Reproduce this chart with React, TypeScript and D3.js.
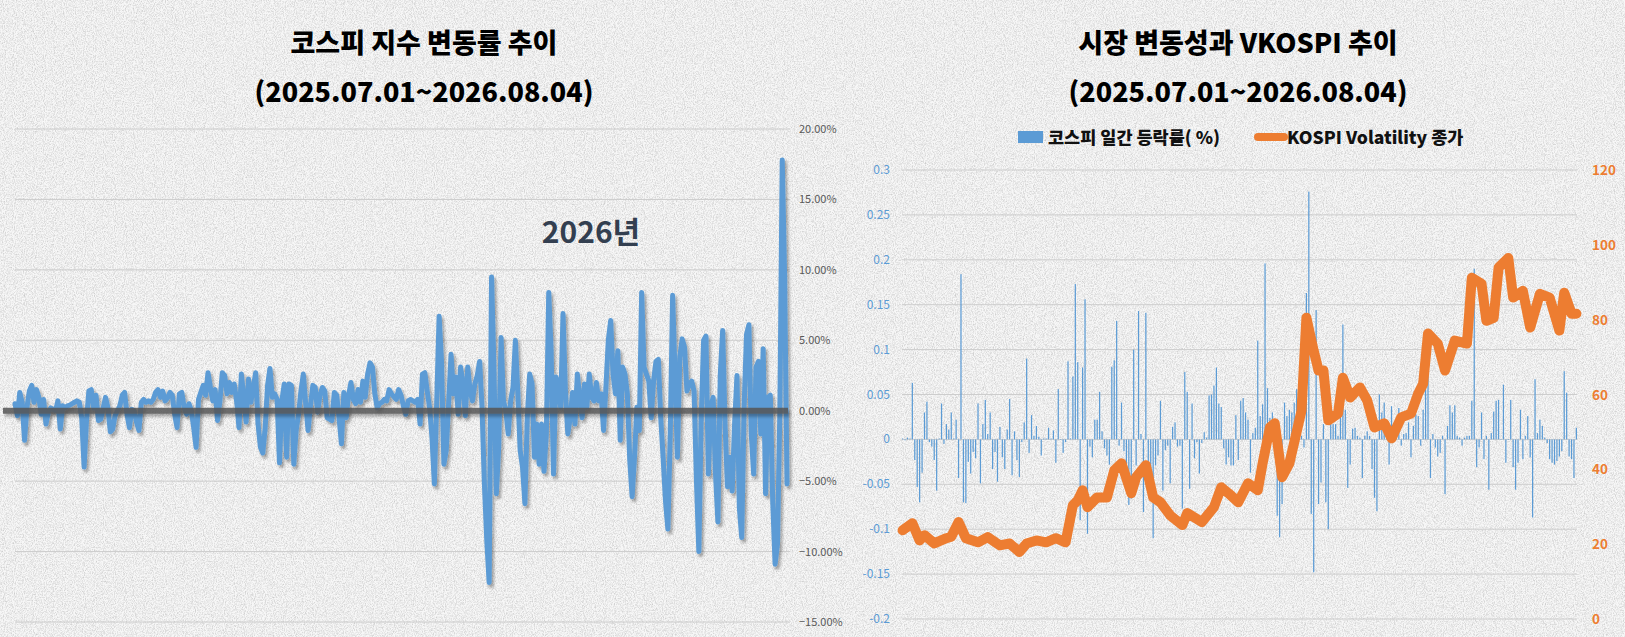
import React, { useEffect, useRef } from 'react';
import * as d3 from 'd3';

// 코스피 지수 변동률 (%), 2025.07.01 ~ 2026.08.04
const kospiRate = [
  0.5, -0.35, 1.3, 0.6, -2.1, 0.2, 1.4, 1.8, 0.6, 1.5,
  0.95, -0.25, 0.8, -0.95, -0.1, 0.2, 0.1, 0, 0.7, -1.3,
  0.35, 0.2, 0.35, 0.4, 0.5, 0.6, 0.7, 0.6, -0.5, -4.0,
  -0.7, 1.4, 1.5, 0.2, 1.1, -0.7, -0.6, 0.2, 0.95, 0.2,
  -1.5, -1.3, -0.35, 0, 0.35, 1.1, 1.3, -0.25, -1.2, 0.1,
  0, -0.8, -1.4, 0.6, 0.8, 0.6, 0.7, 0.6, 0.8, 1.3,
  1.5, 0.95, 1.4, 0.7, 0.9, 1.3, 1.1, -0.25, -1.2, 1.2,
  1.3, 0.2, -0.25, 0.5, 0, -1.2, -2.6, 0.8, 1.3, 1.8,
  1.1, 2.7, 1.65, 0.7, 1.5, -0.7, 0.7, 2.7, 2.5, 1.2,
  2.0, 1.3, 1.9, 0.7, -1.2, 2.6, 0.95, -0.8, 2.25, 0.6,
  1.65, 2.7,
  -0.95, -2.6, -3.0, -1.2, 1.8, 3.0, 0.95, 1.2, 0.8, -3.7,
  0.7, 1.9, -3.3, 1.9, 1.8, -3.8, -1.4, -0.25, 1.4, 2.6,
  0.5, -1.4, 0.35, 1.8, 1.65, -0.1, 1.1, 1.65, 1.4, -0.5,
  -0.6, -0.7, 1.3, 1.1, -0.5, -2.35, 1.3, -0.5, 1.1, 2.0,
  0.8, 0.5, 1.5, 0.6, 2.1, 0.95, 2.6, 3.4, 3.1, 1.2,
  0.2, 0.5, 0.6, 0.8, 0.7, 1.5, 1.2, 1.0, 0.8, 1.5,
  1.1, 0.35, -0.25, 0.7, 0.8, 0.7, 0.6, 0.8, -0.95, 2.6,
  2.7, 1.4, 0.2,
  -1.9, -5.2, 0.7, 6.7, 3.5, -3.8, -2.8, 0.6, 4.0, 1.2,
  2.4, -0.25, 3.1, 1.9, -0.35, 3.1, 1.4, 0.7, 1.9, 2.5,
  3.5, 0.25, -5.2, -9.2, -12.2, 9.5, 3.1, -5.9, -2.6, 5.2,
  0.7, 0, -1.65, 0.7, 1.65, 5.0, 1.4, -2.8, -4.0, -6.6,
  -0.5, 2.6, 1.9, -3.3, -0.95, -3.8, -0.95, -4.3, -1.65, 8.4,
  4.25, -4.5, 2.4, 1.9, 0.25, 6.9, 1.4, -1.65, -0.5, 1.3,
  -0.95, 2.6, 0.95, -0.5, 1.9, 0.25, 2.6, 0.95, 0.7, 2.0,
  0.7, 1.2, -1.4, 1.65, 5.0, 6.4, 2.6, 1.2, 4.25, -2.1,
  3.1, 2.6, 1.2, -3.5, -6.1, -3.3, 0.25, -1.4, 8.4, 3.1,
  2.6, 2.1, -0.5, 2.1, 3.5, 3.65, -0.5, -3.3, -6.4, -8.4,
  -1.65, 8.2, 2.6, -3.3, 3.8, 5.1, 4.5, 1.4, 1.9, 2.1,
  1.4, -5.0, -10.0, -0.5, 5.0, 5.3, -4.5, 0.25, 0.95, -4.5,
  -7.9, 2.6, 5.7, -0.95, -5.4, -3.3, -5.7, -0.95, 2.5, -6.9,
  -9.0, 0.25, 5.4, 6.1, -1.65, -4.5, 3.1, 3.5, -1.65, 4.4,
  -5.9, 0.95, 1.1, -6.4, -10.9, -9.5, 0, 17.8, 9.5, -5.2,
];

// 코스피 일간 등락률 (bars, right chart)
const dailyChange = [
  0.001, -0.001, 0.002, 0.001,
  0.063, -0.023, -0.053, -0.07, -0.037, 0.03, 0.042, -0.003, -0.008, -0.023,
  -0.057, 0.001, 0.04, -0.005, 0.017, 0.011, 0.03, 0.001, 0.022, -0.043,
  0.184, -0.07, -0.071, -0.025, -0.038, -0.014, -0.021, 0.04, -0.049, 0.017,
  0.044, 0.006, 0.03, -0.033, -0.014, -0.047, 0.014, -0.02, -0.033, 0.011,
  0.045, -0.04, 0.009, -0.023, -0.042, -0.003, 0.019, 0.09, -0.015, 0.027,
  0.004, 0.015, 0.003, -0.018, 0.001, 0.001, 0.013, 0.001, 0.01, -0.026,
  0.056, 0, -0.015, -0.003, 0.087, 0.001, 0.07, 0.173, 0.086, -0.09,
  0.08, 0.156, -0.105, -0.008, -0.02, 0.022, 0.022, 0.053, 0.009, -0.01,
  -0.018, -0.028, 0.081, 0.088, 0.132, -0.007, 0.041, -0.013, -0.034, -0.073,
  -0.066, 0.1, -0.029, 0.143, 0.006, -0.081, 0.141, -0.025, -0.047, -0.11,
  -0.029, -0.018, 0.043, -0.057, -0.012, -0.007, -0.049, 0.014, 0.019, -0.008,
  -0.007, -0.077, 0.075, 0.053, -0.055, 0.04, -0.021, -0.003, -0.038, -0.004,
  0.008, 0.002, 0.049, 0.05, 0.06, 0.08, 0.04, 0.036, -0.01, -0.028,
  -0.02, -0.029, -0.029, 0.027, -0.023,
  0.043, 0.046, 0.03, 0.022, -0.037, 0.007, 0.013, 0.11, 0.026, 0.039,
  0.196, 0.057, 0.024, 0.03, 0.002, -0.085, -0.109, -0.072, 0.041, 0.026,
  0.033, 0.03, 0.041, 0.056, 0.037, 0.004, -0.009, 0.163, 0.276, -0.083,
  -0.148, 0.144, -0.072, -0.048, 0.017, -0.07, -0.1, 0.03, 0.017, 0.017,
  0.004, 0.057, 0.128, 0.033, -0.054, -0.028, 0.012, 0.013, 0.004, 0.002,
  -0.043, 0.004, 0.009, 0.004, -0.033, -0.065, -0.08, 0.05, 0.03, 0.041,
  0.007, -0.028, 0.037, 0.007, 0.007, 0.035, -0.007, 0.006, 0.007, 0.019,
  -0.02, 0.015, 0.028, 0.026, -0.007, 0.033, 0.065, 0.081, -0.043, 0.006,
  -0.009, -0.019, -0.015, 0.004, -0.061, 0.015, 0.038, 0.03, 0.038, 0.004,
  0.002, -0.007, 0.002, 0.004, 0.004, 0.043, 0.19, -0.031, -0.009, 0.03,
  -0.022, 0.004, -0.056, 0.007, 0.031, 0.043, 0.044, 0, 0.061, -0.026,
  0, 0.044, -0.031, -0.056, -0.026, 0.033, -0.022, 0.004, 0.026, -0.02,
  -0.087, 0.067, 0.007, 0.022, 0.015, 0.002, -0.004, -0.022, -0.026, -0.028,
  -0.024, -0.019, -0.013, 0.076, 0.052, -0.019, -0.022, -0.043, 0.013,
];

// KOSPI Volatility 종가 (trading-day index, close)
const vkospiDay = [
  0, 4, 7, 9, 13, 18, 20, 23, 26, 31, 35, 40, 44, 48, 51, 55, 59, 63, 67, 70,
  72, 74, 76, 80, 84, 87, 90, 94, 96, 100, 103, 106, 110, 115, 117, 123, 126, 128, 131, 134,
  138, 142, 146, 148, 151, 153, 156, 159, 164, 166, 169, 171, 173, 175, 179, 181, 184, 188, 191, 194,
  198, 201, 205, 209, 212, 214, 216, 220, 223, 227, 232, 234, 238, 240, 243, 245, 249, 251, 255, 258,
  262, 266, 270, 272, 275, 277,
];
const vkospiClose = [
  23.7, 25.6, 21, 22.4, 20.2, 21.6, 22.0, 25.9, 21.6, 20.5, 21.9, 19.7, 20.2, 17.9, 20.2, 21, 20.5, 21.6, 20.5, 30.4,
  31.7, 34.4, 29.9, 32.5, 32.5, 39.7, 41.6, 33.6, 37.9, 41.1, 32.5, 31.2, 27.7, 25.1, 28.3, 25.9, 28.3, 29.9, 35.2, 33.6,
  31.2, 36.3, 34.4, 41.6, 51.2, 52.3, 37.9, 41.6, 55.7, 80.5, 71.7, 66.4, 66.4, 53.1, 54.9, 64.5, 59.2, 61.9, 58.4, 51.2,
  52.3, 48.3, 53.9, 54.9, 60.3, 62.9, 76.3, 73.6, 66.4, 74.4, 73.6, 91.2, 89.6, 79.7, 80.5, 93.9, 96.5, 85.9, 87.7, 77.9,
  86.9, 85.9, 77.1, 87.2, 81.6, 81.6,
];

const rateTicks = [20, 15, 10, 5, 0, -5, -10, -15];
const changeTicks = [0.3, 0.25, 0.2, 0.15, 0.1, 0.05, 0, -0.05, -0.1, -0.15, -0.2];
const vkospiTicks = [120, 100, 80, 60, 40, 20, 0];

const leftTitle = ['코스피 지수 변동률 추이', '(2025.07.01~2026.08.04)'];
const rightTitle = ['시장 변동성과 VKOSPI 추이', '(2025.07.01~2026.08.04)'];
const yearNote = '2026년';
const legendLabels = ['코스피 일간 등락률( %)', 'KOSPI Volatility 종가'];

const W = 1625;
const H = 637;
const FONT = '"Noto Sans CJK KR", "Noto Sans", sans-serif';
const BLUE = '#5b9bd5';
const ORANGE = '#ed7d31';

const App: React.FC = () => {
  const svgRef = useRef<SVGSVGElement>(null);

  useEffect(() => {
    if (!svgRef.current) return;
    document.body.style.margin = '0';
    const svg = d3.select(svgRef.current);
    svg.selectAll('*').remove();

    const defs = svg.append('defs');

    // canvas-like paper texture
    const tex = defs.append('filter').attr('id', 'tex')
      .attr('filterUnits', 'userSpaceOnUse')
      .attr('x', 0).attr('y', 0).attr('width', W).attr('height', H);
    tex.append('feTurbulence')
      .attr('type', 'fractalNoise')
      .attr('baseFrequency', '1.1 0.7')
      .attr('numOctaves', 2)
      .attr('seed', 4);
    tex.append('feColorMatrix')
      .attr('type', 'matrix')
      .attr('values', '0 0 0 0 0.4  0 0 0 0 0.4  0 0 0 0 0.4  1.1 0 0 0 -0.42');

    // drop shadow, in user space so flat lines keep their region
    const shadow = defs.append('filter').attr('id', 'shadow')
      .attr('filterUnits', 'userSpaceOnUse')
      .attr('x', 0).attr('y', 0).attr('width', W).attr('height', H);
    shadow.append('feDropShadow')
      .attr('dx', 2).attr('dy', 3)
      .attr('stdDeviation', 1.6)
      .attr('flood-color', '#000')
      .attr('flood-opacity', 0.35);

    svg.append('rect').attr('width', W).attr('height', H).attr('fill', '#f7f7f7');
    svg.append('rect').attr('width', W).attr('height', H).attr('filter', 'url(#tex)');

    // ---------- left chart ----------
    const xL = d3.scaleLinear().domain([0, kospiRate.length - 1]).range([15, 787]);
    const yL = d3.scaleLinear().domain([-15, 20]).range([622, 129]);

    const gL = svg.append('g');

    gL.selectAll('line.grid')
      .data(rateTicks.filter(t => t !== 0))
      .enter()
      .append('line')
      .attr('x1', 15)
      .attr('x2', 790)
      .attr('y1', d => yL(d))
      .attr('y2', d => yL(d))
      .attr('stroke', '#cccccc')
      .attr('stroke-width', 1);

    const rateLine = d3.line<number>()
      .x((_, i) => xL(i))
      .y(d => yL(d));

    gL.append('path')
      .datum(kospiRate)
      .attr('d', rateLine)
      .attr('fill', 'none')
      .attr('stroke', BLUE)
      .attr('stroke-width', 5)
      .attr('stroke-linejoin', 'round')
      .attr('stroke-linecap', 'round')
      .attr('filter', 'url(#shadow)');

    gL.append('line')
      .attr('x1', 3)
      .attr('x2', 788)
      .attr('y1', yL(0))
      .attr('y2', yL(0))
      .attr('stroke', '#555555')
      .attr('stroke-width', 6)
      .attr('opacity', 0.85)
      .attr('filter', 'url(#shadow)');

    gL.selectAll('text.tick')
      .data(rateTicks)
      .enter()
      .append('text')
      .attr('x', 799)
      .attr('y', d => yL(d) + 4)
      .attr('font-family', FONT)
      .attr('font-size', 11)
      .attr('fill', '#595959')
      .text(d => `${d3.format('.2f')(d)}%`);

    gL.append('text')
      .attr('x', 591)
      .attr('y', 243)
      .attr('text-anchor', 'middle')
      .attr('font-family', FONT)
      .attr('font-size', 30)
      .attr('font-weight', 'bold')
      .attr('fill', '#333f50')
      .text(yearNote);

    gL.selectAll('text.title')
      .data(leftTitle)
      .enter()
      .append('text')
      .attr('x', 424)
      .attr('y', (_, i) => (i === 0 ? 53 : 102))
      .attr('text-anchor', 'middle')
      .attr('font-family', FONT)
      .attr('font-size', 27)
      .attr('font-weight', 900)
      .attr('fill', '#000')
      .text(d => d);

    // ---------- right chart ----------
    const xB = d3.scaleBand<number>()
      .domain(d3.range(dailyChange.length))
      .range([902, 1577])
      .paddingInner(0.5);
    const bw = xB.bandwidth();
    const xDay = d3.scaleLinear()
      .domain([0, dailyChange.length - 1])
      .range([xB(0)! + bw / 2, xB(dailyChange.length - 1)! + bw / 2]);
    const yC = d3.scaleLinear().domain([-0.2, 0.3]).range([619, 170]);
    const yV = d3.scaleLinear().domain([0, 120]).range([619, 170]);

    const gR = svg.append('g');

    gR.selectAll('line.grid')
      .data(changeTicks)
      .enter()
      .append('line')
      .attr('x1', 902)
      .attr('x2', 1577)
      .attr('y1', d => yC(d))
      .attr('y2', d => yC(d))
      .attr('stroke', '#cdcdcd')
      .attr('stroke-width', 1);

    gR.selectAll('rect.bar')
      .data(dailyChange)
      .enter()
      .append('rect')
      .attr('x', (_, i) => xB(i)!)
      .attr('y', d => Math.min(yC(d), yC(0)))
      .attr('width', bw)
      .attr('height', d => Math.max(0.6, Math.abs(yC(d) - yC(0))))
      .attr('fill', BLUE);

    const vLine = d3.line<number>()
      .x((_, i) => xDay(vkospiDay[i]))
      .y(d => yV(d));

    gR.append('path')
      .datum(vkospiClose)
      .attr('d', vLine)
      .attr('fill', 'none')
      .attr('stroke', ORANGE)
      .attr('stroke-width', 10)
      .attr('stroke-linejoin', 'round')
      .attr('stroke-linecap', 'round');

    gR.selectAll('text.ltick')
      .data(changeTicks)
      .enter()
      .append('text')
      .attr('x', 890)
      .attr('y', d => yC(d) + 4)
      .attr('text-anchor', 'end')
      .attr('font-family', FONT)
      .attr('font-size', 12)
      .attr('fill', BLUE)
      .text(d => String(d));

    gR.selectAll('text.rtick')
      .data(vkospiTicks)
      .enter()
      .append('text')
      .attr('x', 1592)
      .attr('y', d => yV(d) + 5)
      .attr('font-family', FONT)
      .attr('font-size', 13.5)
      .attr('font-weight', 'bold')
      .attr('fill', ORANGE)
      .text(d => String(d));

    gR.selectAll('text.title')
      .data(rightTitle)
      .enter()
      .append('text')
      .attr('x', 1238)
      .attr('y', (_, i) => (i === 0 ? 53 : 102))
      .attr('text-anchor', 'middle')
      .attr('font-family', FONT)
      .attr('font-size', 27)
      .attr('font-weight', 900)
      .attr('fill', '#000')
      .text(d => d);

    // legend
    const lg = gR.append('g');
    lg.append('rect')
      .attr('x', 1018).attr('y', 131)
      .attr('width', 25).attr('height', 12)
      .attr('fill', BLUE);
    lg.append('text')
      .attr('x', 1048).attr('y', 143.5)
      .attr('font-family', FONT)
      .attr('font-size', 17.5)
      .attr('font-weight', 900)
      .attr('fill', '#111')
      .text(legendLabels[0]);
    lg.append('line')
      .attr('x1', 1258).attr('x2', 1284)
      .attr('y1', 137).attr('y2', 137)
      .attr('stroke', ORANGE)
      .attr('stroke-width', 8)
      .attr('stroke-linecap', 'round');
    lg.append('text')
      .attr('x', 1287).attr('y', 143.5)
      .attr('font-family', FONT)
      .attr('font-size', 17.5)
      .attr('font-weight', 900)
      .attr('fill', '#111')
      .text(legendLabels[1]);
  }, []);

  return (
    <svg
      ref={svgRef}
      width={W}
      height={H}
      style={{ position: 'absolute', left: 0, top: 0, display: 'block' }}
    />
  );
};

export default App;
